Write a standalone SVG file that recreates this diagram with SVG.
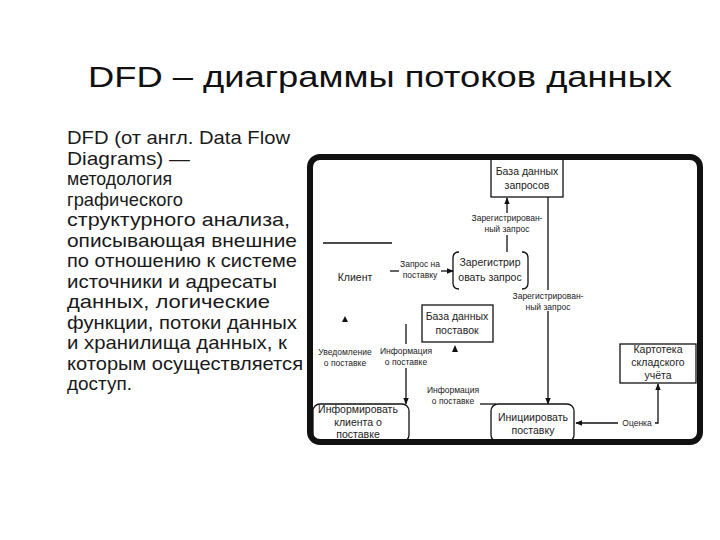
<svg xmlns="http://www.w3.org/2000/svg" width="720" height="540" viewBox="0 0 720 540">
<defs>
<style>
.title{font-family:"Liberation Sans","DejaVu Sans",sans-serif;font-size:30px;fill:#111}
.body{font-family:"Liberation Sans","DejaVu Sans",sans-serif;font-size:19px;fill:#1a1a1a}
.node{font-family:"Liberation Sans","DejaVu Sans",sans-serif;font-size:10.5px;fill:#222;text-anchor:middle}
.flow{font-family:"Liberation Sans","DejaVu Sans",sans-serif;font-size:8.5px;fill:#222;text-anchor:middle}
.ln{stroke:#111;stroke-width:1.3;fill:none}
.box{stroke:#111;stroke-width:1.3;fill:#fff}
.ah{fill:#111}
</style>
<marker id="arr" viewBox="0 0 10 10" refX="9" refY="5" markerWidth="7" markerHeight="7" orient="auto" markerUnits="userSpaceOnUse">
<path d="M0,1 L10,5 L0,9 Z" fill="#111"/>
</marker>
</defs>
<rect width="720" height="540" fill="#fff"/>
<text class="title" x="88" y="87" textLength="584" lengthAdjust="spacingAndGlyphs">DFD – диаграммы потоков данных</text>
<g id="body-text">
<text class="body" x="67" y="144" textLength="223" lengthAdjust="spacingAndGlyphs">DFD (от англ. Data Flow</text>
<text class="body" x="67" y="164.5" textLength="123" lengthAdjust="spacingAndGlyphs">Diagrams) —</text>
<text class="body" x="67" y="185" textLength="105" lengthAdjust="spacingAndGlyphs">методология</text>
<text class="body" x="67" y="205.5" textLength="116" lengthAdjust="spacingAndGlyphs">графического</text>
<text class="body" x="67" y="226" textLength="223" lengthAdjust="spacingAndGlyphs">структурного анализа,</text>
<text class="body" x="67" y="246.5" textLength="230" lengthAdjust="spacingAndGlyphs">описывающая внешние</text>
<text class="body" x="67" y="267" textLength="230" lengthAdjust="spacingAndGlyphs">по отношению к системе</text>
<text class="body" x="67" y="287.5" textLength="210" lengthAdjust="spacingAndGlyphs">источники и адресаты</text>
<text class="body" x="67" y="308" textLength="203" lengthAdjust="spacingAndGlyphs">данных, логические</text>
<text class="body" x="67" y="328.5" textLength="230" lengthAdjust="spacingAndGlyphs">функции, потоки данных</text>
<text class="body" x="67" y="349" textLength="220" lengthAdjust="spacingAndGlyphs">и хранилища данных, к</text>
<text class="body" x="67" y="369.5" textLength="236" lengthAdjust="spacingAndGlyphs">которым осуществляется</text>
<text class="body" x="67" y="390" textLength="65" lengthAdjust="spacingAndGlyphs">доступ.</text>
</g>
<g id="connectors">
<line class="ln" x1="390" y1="271" x2="399" y2="271"/>
<line class="ln" x1="441" y1="271" x2="453" y2="271" marker-end="url(#arr)"/>
<text class="flow" x="420" y="267">Запрос на</text>
<text class="flow" x="420" y="278">поставку</text>
<line class="ln" x1="507" y1="252" x2="507" y2="235"/>
<line class="ln" x1="507" y1="213" x2="507" y2="198" marker-end="url(#arr)"/>
<text class="flow" x="507" y="221">Зарегистрирован-</text>
<text class="flow" x="507" y="232">ный запрос</text>
<line class="ln" x1="548" y1="197" x2="548" y2="290"/>
<line class="ln" x1="548" y1="311" x2="548" y2="404" marker-end="url(#arr)"/>
<text class="flow" x="548" y="299">Зарегистрирован-</text>
<text class="flow" x="548" y="310">ный запрос</text>
<line class="ln" x1="406" y1="324" x2="406" y2="344"/>
<line class="ln" x1="406" y1="368" x2="406" y2="404" marker-end="url(#arr)"/>
<text class="flow" x="406" y="354">Информация</text>
<text class="flow" x="406" y="365">о поставке</text>
<path class="ah" d="M345,316 L348,322 L342,322 Z"/>
<text class="flow" x="345" y="355">Уведомление</text>
<text class="flow" x="345" y="366">о поставке</text>
<path class="ah" d="M455,345 L458,352 L452,352 Z"/>
<text class="flow" x="453" y="393">Информация</text>
<text class="flow" x="453" y="404">о поставке</text>
<line class="ln" x1="480" y1="404" x2="496" y2="404"/>
<line class="ln" x1="618" y1="423" x2="576" y2="423" marker-end="url(#arr)"/>
<text class="flow" x="637" y="426">Оценка</text>
<polyline class="ln" points="655,423 658,423 658,384" marker-end="url(#arr)"/>
</g>
<g id="client">
<line class="ln" x1="323" y1="243" x2="392" y2="243"/>
<text class="node" x="355" y="281">Клиент</text>
</g>
<g id="db-requests">
<rect class="box" x="491" y="158" width="72" height="39"/>
<text class="node" x="527" y="175">База данных</text>
<text class="node" x="527" y="189">запросов</text>
</g>
<g id="register">
<path class="ln" d="M459,252 Q453,252 453,258 L453,283 Q453,289 459,289"/>
<path class="ln" d="M522,252 Q528,252 528,258 L528,283 Q528,289 522,289"/>
<text class="node" x="490" y="266">Зарегистрир</text>
<text class="node" x="490" y="281">овать запрос</text>
</g>
<g id="db-supplies">
<rect class="box" x="422" y="305" width="71" height="37"/>
<text class="node" x="457" y="320">База данных</text>
<text class="node" x="457" y="334">поставок</text>
</g>
<g id="stock">
<rect class="box" x="620" y="344" width="76" height="39"/>
<text class="node" x="658" y="353">Картотека</text>
<text class="node" x="658" y="366">складского</text>
<text class="node" x="658" y="379">учёта</text>
</g>
<g id="inform-client">
<rect class="box" x="313" y="404" width="96" height="38" rx="7"/>
<text class="node" x="358" y="412.5">Информировать</text>
<text class="node" x="358" y="425.5">клиента о</text>
<text class="node" x="358" y="438">поставке</text>
</g>
<g id="initiate">
<rect class="box" x="491" y="404" width="83" height="38" rx="7"/>
<text class="node" x="533" y="421">Инициировать</text>
<text class="node" x="533" y="434">поставку</text>
</g>
<rect x="310" y="157" width="390" height="285" rx="10" fill="none" stroke="#111" stroke-width="6"/>
</svg>
